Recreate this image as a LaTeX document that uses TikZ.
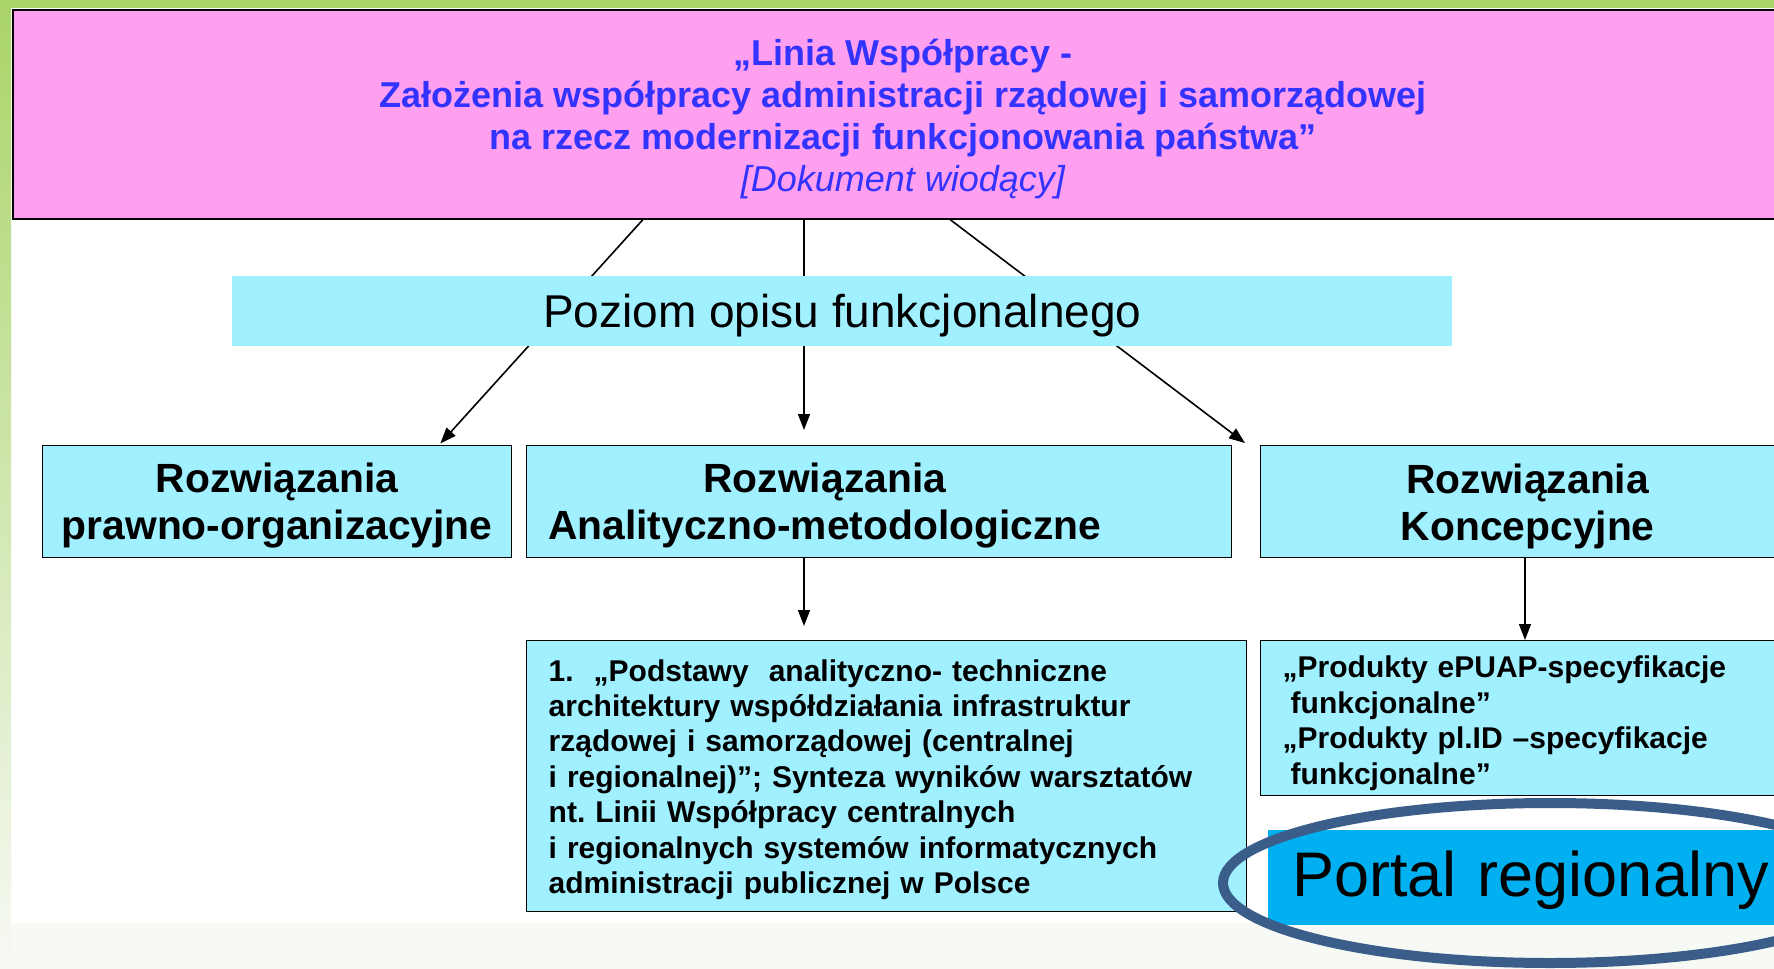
\documentclass[tikz,border=0pt]{standalone}
\usepackage{fontspec}
\setmainfont{Liberation Sans}
\usetikzlibrary{arrows.meta,calc}

\definecolor{pinkfill}{HTML}{FF9FF0}
\definecolor{cyanfill}{HTML}{A0F0FF}
\definecolor{titleblue}{HTML}{3333FF}
\definecolor{portalblue}{HTML}{00B0F0}
\definecolor{ringblue}{HTML}{3B5D8A}
\definecolor{leafgreen}{HTML}{A9D468}
\definecolor{paleback}{HTML}{F7F9F4}

% strut that pushes the first line down a little
\newcommand{\topgap}[1]{\rule{0pt}{#1}}

\tikzset{
 box/.style={draw=black, line width=0.7pt, fill=cyanfill, anchor=north west, inner sep=0pt},
 head/.style={box, minimum height=56pt, align=center, font=\fontsize{20.4}{23.5}\selectfont\bfseries},
 note/.style={box, align=left, font=\fontsize{15}{17.7}\selectfont\bfseries},
 arr/.style={line width=0.8pt, -{Triangle[length=8pt,width=6pt]}},
}

\begin{document}
\begin{tikzpicture}[x=0.5pt,y=-0.5pt]
 \useasboundingbox (0,0) rectangle (1774,969);
 \clip (0,0) rectangle (1774,969);
 \fill[paleback] (0,0) rectangle (1774,969);
 \fill[white] (11,8) rectangle (1774,923);
 \shade[top color=leafgreen, bottom color=paleback] (0,0) rectangle (11,969);
 \fill[leafgreen] (0,0) rectangle (1774,8);

 \node[draw=black, line width=1pt, fill=pinkfill, anchor=north west, inner sep=0pt,
   minimum width=890.5pt, minimum height=104.5pt, align=center, text=titleblue,
   font=\fontsize{18}{21}\selectfont\bfseries] (title) at (11.5,8.5)
   {\topgap{17.9pt}„Linia Współpracy -\\Założenia współpracy administracji rządowej i samorządowej\\na rzecz modernizacji funkcjonowania państwa”\\{\mdseries\itshape [Dokument wiodący]}};

 \node[head, minimum width=234.5pt] (legal) at (42,445) {\topgap{19.1pt}Rozwiązania\\prawno-organizacyjne};
 \node[head, minimum width=352.5pt, text width=331pt, align=left] (method) at (526,445)
   {\begin{tabular}{@{}c@{}}\topgap{20.9pt}Rozwiązania\\Analityczno-metodologiczne\end{tabular}};
 \node[head, minimum width=267pt] (concept) at (1260,445) {\topgap{19.1pt}Rozwiązania\\Koncepcyjne};

 \node[note, minimum width=360pt, minimum height=135.5pt, text width=338pt] (workshop) at (526,640)
   {\topgap{14.3pt}1.\ \ „Podstawy\ \ analityczno- techniczne\\architektury współdziałania infrastruktur\\rządowej i samorządowej (centralnej\\i regionalnej)”; Synteza wyników warsztatów\\nt.\ Linii Współpracy centralnych\\i regionalnych systemów informatycznych\\administracji publicznej w Polsce};
 \node[note, minimum width=267pt, minimum height=77.5pt, text width=245pt] (epuap) at (1260,640)
   {\topgap{16pt}„Produkty ePUAP-specyfikacje\\\hspace*{4pt}funkcjonalne”\\„Produkty pl.ID –specyfikacje\\\hspace*{4pt}funkcjonalne”};
 \node[fill=portalblue, anchor=north west, inner sep=0pt, minimum width=300pt, minimum height=47.5pt,
   text width=276pt, align=left, font=\fontsize{31.5}{36}\selectfont] (portal) at (1268,830) {\topgap{25.3pt}Portal regionalny};

 \draw[arr, shorten >=1pt] (643,0 |- title.south) -- (439,0 |- legal.north);
 \draw[arr, shorten >=7.5pt] (804,0 |- title.south) -- (804,0 |- method.north);
 \draw[arr] (950,0 |- title.south) -- ($(concept.north west)+(-15,-2)$);
 \draw[arr, shorten >=7pt] (804,0 |- method.south) -- (804,0 |- workshop.north);
 \draw[arr] (1525,0 |- concept.south) -- (1525,0 |- epuap.north);

 \node[fill=cyanfill, anchor=north west, inner sep=0pt, minimum width=610pt, minimum height=35pt,
   font=\fontsize{23}{27}\selectfont] (level) at (232,276) {\topgap{21.3pt}Poziom opisu funkcjonalnego};

 \draw[ringblue, line width=5pt] (1550,883) ellipse [x radius=163.5pt, y radius=40pt];
\end{tikzpicture}
\end{document}
